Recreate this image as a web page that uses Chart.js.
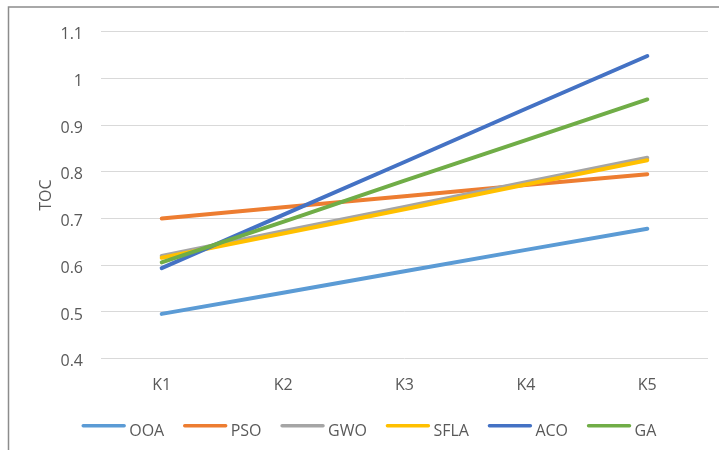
<!DOCTYPE html>
<html>
<head>
<meta charset="utf-8">
<script src="https://cdn.jsdelivr.net/npm/chart.js@4/dist/chart.umd.min.js"></script>
<style>
  html, body { margin: 0; padding: 0; background: #ffffff; }
  #wrap { width: 719px; height: 450px; position: relative; }
</style>
</head>
<body>
<div id="wrap"><canvas id="chart" width="719" height="450"></canvas></div>
<script>
// Categories and TOC values per algorithm
const categories = ['K1', 'K2', 'K3', 'K4', 'K5'];
const seriesNames = ['OOA', 'PSO', 'GWO', 'SFLA', 'ACO', 'GA'];
const ooa  = [0.496, 0.541, 0.587, 0.633, 0.678];
const pso  = [0.700, 0.724, 0.748, 0.772, 0.795];
const gwo  = [0.620, 0.673, 0.725, 0.778, 0.830];
const sfla = [0.616, 0.668, 0.720, 0.773, 0.825];
const aco  = [0.594, 0.708, 0.821, 0.935, 1.048];
const ga   = [0.606, 0.693, 0.781, 0.868, 0.955];
const yTicks = [0.4, 0.5, 0.6, 0.7, 0.8, 0.9, 1, 1.1];
const yTitle = 'TOC';

const seriesValues = [ooa, pso, gwo, sfla, aco, ga];
const colors = ['#5B9BD5', '#ED7D31', '#A5A5A5', '#FFC000', '#4472C4', '#70AD47'];

const FONT = '"Open Sans", "Noto Sans", sans-serif';
const TEXT = '#595959';

// Later series are painted over earlier ones
const datasets = seriesNames.map((name, i) => ({
  label: name,
  data: seriesValues[i],
  borderColor: colors[i],
  backgroundColor: colors[i],
  borderWidth: 4,
  borderCapStyle: 'round',
  borderJoinStyle: 'round',
  pointRadius: 0,
  pointHoverRadius: 0,
  tension: 0,
  fill: false,
  order: seriesNames.length - i
}));

// Frame lines along the top and left edge
const framePlugin = {
  id: 'frame',
  afterDraw(chart) {
    const ctx = chart.ctx;
    ctx.save();
    ctx.strokeStyle = '#8c8c8c';
    ctx.lineWidth = 1.5;
    ctx.beginPath();
    ctx.moveTo(8.5, 450);
    ctx.lineTo(8.5, 7);
    ctx.lineTo(719, 7);
    ctx.stroke();
    ctx.restore();
  }
};

// Row legend below the axis: short line then the series name
const rowLegend = {
  id: 'rowLegend',
  afterDraw(chart) {
    const ctx = chart.ctx;
    ctx.save();
    ctx.font = '16px ' + FONT;
    ctx.textBaseline = 'alphabetic';
    ctx.textAlign = 'left';
    const lineLen = 44, textGap = 3.5, itemGap = 19;
    const lineY = 425.7, textY = 436;
    let x = 81.7;
    chart.data.datasets.forEach(ds => {
      ctx.strokeStyle = ds.borderColor;
      ctx.lineWidth = 3.4;
      ctx.lineCap = 'round';
      ctx.beginPath();
      ctx.moveTo(x + 1.5, lineY);
      ctx.lineTo(x + lineLen - 1.5, lineY);
      ctx.stroke();
      const tx = x + lineLen + textGap;
      ctx.fillStyle = TEXT;
      ctx.fillText(ds.label, tx, textY);
      x = tx + ctx.measureText(ds.label).width + itemGap;
    });
    ctx.restore();
  }
};

new Chart(document.getElementById('chart'), {
  type: 'line',
  data: { labels: categories, datasets: datasets },
  options: {
    responsive: false,
    animation: false,
    events: [],
    layout: { padding: { top: 31.7, right: 11, bottom: 0, left: 0 } },
    plugins: {
      legend: { display: false },
      tooltip: { enabled: false }
    },
    scales: {
      x: {
        offset: true,
        grid: { display: false, drawTicks: false },
        border: { display: false },
        ticks: { color: TEXT, font: { family: FONT, size: 16 }, padding: 17 },
        afterFit(scale) { scale.height = 91.3; }
      },
      y: {
        min: 0.4,
        max: 1.1,
        afterBuildTicks(scale) { scale.ticks = yTicks.map(v => ({ value: v })); },
        grid: { color: '#d9d9d9', lineWidth: 1, drawTicks: false },
        border: { display: false },
        ticks: {
          color: TEXT,
          font: { family: FONT, size: 16 },
          padding: 18,
          labelOffset: 3,
          callback: v => String(Math.round(v * 10) / 10)
        },
        title: {
          display: true,
          text: yTitle,
          color: TEXT,
          font: { family: FONT, size: 16 },
          padding: { top: 36.4, bottom: 0 }
        },
        afterFit(scale) { scale.width = 101; }
      }
    }
  },
  plugins: [framePlugin, rowLegend]
});
</script>
</body>
</html>
